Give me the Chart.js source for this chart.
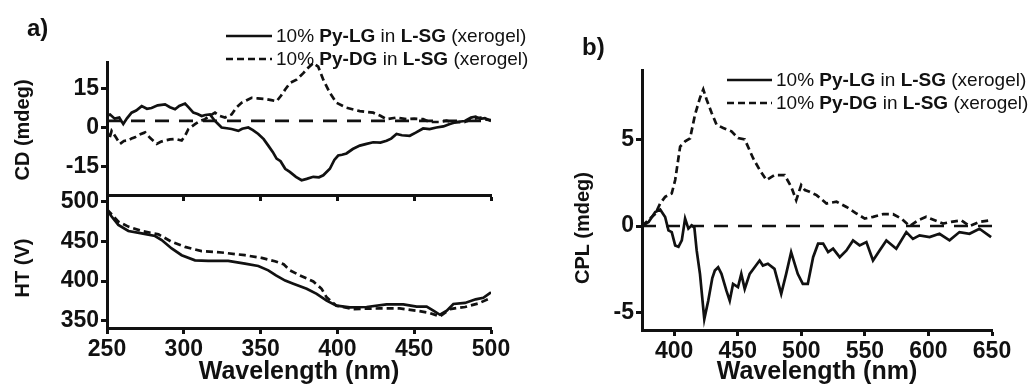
<!DOCTYPE html>
<html><head><meta charset="utf-8">
<script src="https://cdn.jsdelivr.net/npm/chart.js@4.4.1/dist/chart.umd.min.js"></script>
<style>
html,body{margin:0;padding:0;background:#fff;}
#wrap{position:relative;width:1030px;height:388px;overflow:hidden;font-family:"Liberation Sans",Arial,sans-serif;color:#111;}
canvas{position:absolute;}
.t{position:absolute;white-space:nowrap;line-height:1;}
.leg{position:absolute;white-space:nowrap;font-size:19px;line-height:22px;height:22px;}
.leg svg{vertical-align:middle;margin-right:4px;}
.leg span{vertical-align:middle;}
.rot{position:absolute;white-space:nowrap;font-weight:bold;font-size:20px;line-height:1;transform:translate(-50%,-50%) rotate(-90deg);}
</style></head>
<body><div id="wrap">
<canvas id="cd" width="530" height="201" style="left:0;top:0"></canvas>
<canvas id="ht" width="530" height="388" style="left:0;top:0"></canvas>
<canvas id="cpl" width="500" height="388" style="left:530px;top:0"></canvas>
<div class="t" style="left:27px;top:16px;font-size:24px;font-weight:bold">a)</div>
<div class="t" style="left:582px;top:35px;font-size:24px;font-weight:bold">b)</div>
<div class="rot" style="left:22px;top:130px">CD (mdeg)</div>
<div class="rot" style="left:22px;top:268px">HT (V)</div>
<div class="rot" style="left:582px;top:228px">CPL (mdeg)</div>
<div class="leg" style="left:226px;top:24px"><svg width="46" height="6"><line x1="0" y1="3" x2="46" y2="3" stroke="#111" stroke-width="2.7"/></svg><span>10% <b>Py-LG</b> in <b>L-SG</b> (xerogel)</span></div>
<div class="leg" style="left:226px;top:47px"><svg width="46" height="6"><line x1="0" y1="3" x2="46" y2="3" stroke="#111" stroke-width="2.7" stroke-dasharray="7,4"/></svg><span>10% <b>Py-DG</b> in <b>L-SG</b> (xerogel)</span></div>
<div class="leg" style="left:727px;top:68px"><svg width="45" height="6"><line x1="0" y1="3" x2="45" y2="3" stroke="#111" stroke-width="2.7"/></svg><span>10% <b>Py-LG</b> in <b>L-SG</b> (xerogel)</span></div>
<div class="leg" style="left:727px;top:91px"><svg width="45" height="6"><line x1="0" y1="3" x2="45" y2="3" stroke="#111" stroke-width="2.7" stroke-dasharray="7,4"/></svg><span>10% <b>Py-DG</b> in <b>L-SG</b> (xerogel)</span></div>
</div>
<script>
// ---------- data ----------
const cdLgX = [250,252,255,258,260.6,263,266,269,272.6,276,279,283,287.8,291,294.3,297,300.8,303,306.2,309,311.6,314,317,320.3,322,324.6,328,331.1,335.5,338,342,345,348.5,352,355,358,360.4,363,366,369,373,376.7,380,384.3,388,390.8,395.1,398,400.5,403,405.9,410,414.6,419,423.3,428,432,435,438.5,442,447.1,451,455.8,460,464.5,469,473.2,477.5,483,487,490,493,496,500];
const cdLgY = [4.5,5,3.4,3.8,1.3,3.5,5.7,6.5,8.2,7.2,7.5,8.5,8.9,7.8,7,8.3,9.2,7.8,5.7,5.2,4.4,4.8,5,2.5,1.5,0,-0.3,-0.6,-1.3,-0.5,0,-1,-2.5,-4.5,-7,-9.5,-12,-13,-15.9,-17.1,-19,-20.3,-19.8,-19,-19.2,-18.4,-15.9,-12.5,-10.8,-10.5,-10,-8.3,-7,-6.3,-5.7,-5.8,-5.1,-4.3,-2.5,-3,-3.2,-2,-0.4,-0.6,0,0.4,1.3,2.1,2.5,3.8,4.2,3.3,3.6,2.5];
const cdDgX = [250,251.5,253,256,258.5,261,263.9,266,268.2,271,274.8,278,282.4,285,287.8,291,294.3,298.6,301,303,307.3,310,313.8,317,320.3,323,326.8,331.1,334,337.6,341,344.1,348,352.8,357,360.4,363,366,369.1,373.4,377.8,381,384.3,387.5,390.8,395.1,399.4,405.9,414.6,423.3,428,432,438.5,445,450,455.8,460.2,466.7,471,475.4,483,488,493,497,500];
const cdDgY = [-1,-4.4,-1.3,-4,-6.3,-5.2,-5,-4.2,-3.8,-2.8,-1.9,-4,-6.3,-5.5,-5,-4.6,-4.4,-5,-3,-0.6,1.3,2.3,3.2,4.5,5.7,4.5,3.8,5,7.5,9.5,10.5,11.4,11.2,11,10.5,10.1,12,14.6,17.1,18.4,20.9,23,24.8,23.4,18.4,13.3,9.5,7.6,6.3,5.7,4.5,3.2,3.8,3.2,3.4,3.2,2.1,2.1,2.6,1.9,2.1,3.2,3.8,3,2.8];
const cdBaseline = 2.5;

const htLgX = [250,253,257.4,263.9,272.6,281.3,285.6,292.1,298.6,307.3,315.9,328.9,339.8,348.5,355,360,366,371.3,380,386.5,393,399.4,408.1,419,432,442.9,451.6,458.1,462.5,466.8,471.2,475.5,483.1,490,495,500];
const htLgY = [489.4,481,470.4,462.8,459.9,456.5,451.4,440.9,432.4,426,425.2,425.2,421.9,418.8,413.4,407,400.5,396.5,390.2,383.8,375.3,369,366.9,367.4,370.7,370.7,367.9,367.9,362.7,357.6,362.7,371.2,372.5,377,379,385.9];
const htDgX = [250,257.4,263.9,272.6,283.5,292.1,300.8,311.6,324.6,339.8,350.7,359.3,365,369.1,375.6,384.3,389.7,393,399.4,410.2,427.6,440.6,451.6,460.2,466.8,473.3,483.1,492,500];
const htDgY = [490,474.6,468.3,462.8,458.6,449.2,442.9,437.5,435.8,432.4,429,424.8,421,413.4,407,399.4,390.2,379.5,369,364.8,365.6,365.6,362.7,359.8,355.5,364.8,367.4,372,378.8];

const cplLgX = [374.7,379.9,385.1,389,392.9,395.5,398.1,400.8,403.4,406,408.6,411.2,413.8,415.9,417.7,420.3,423.7,426.8,430,432,434.6,437.2,441.1,443.7,446.3,450.2,452.8,455.5,459.4,463.3,467.2,469.8,473.7,478.9,484.2,488.1,492,497.2,501.2,505.1,509.3,513.2,517.2,521.1,525,530.2,535.5,540.7,545.9,551.2,556.4,561.6,566.9,574.7,582.6,587.8,593,600.9,608.7,616.6,624.4,632.3,640.1,649.3];
const cplLgY = [0,0.23,0.81,0.95,0.52,-0.25,-0.35,-1.12,-1.2,-0.83,0.43,-0.15,0.04,-0.1,-1.41,-2.76,-5.37,-4.31,-3,-2.57,-2.38,-2.76,-3.73,-4.31,-3.34,-3.53,-2.76,-3.63,-2.76,-2.38,-1.99,-2.28,-2.18,-2.47,-3.92,-2.76,-1.51,-2.76,-3.34,-3.34,-1.8,-1.02,-1.02,-1.51,-1.31,-1.8,-1.41,-0.83,-1.12,-0.93,-1.99,-1.41,-0.83,-1.31,-0.35,-0.74,-0.54,-0.64,-0.45,-0.83,-0.35,-0.45,-0.16,-0.64];
const cplDgX = [374.7,385.1,389,392.9,398.1,400.8,404.7,408.6,412.5,416.4,420.3,422.9,425.5,429.5,433.4,438.6,445.1,450.3,455.5,462.1,467.3,472.5,479,486.9,492.1,496,499.9,502.8,506.5,512,519.8,527.7,535.5,543.4,549.9,556.5,564.3,572.2,578.7,585.3,591.8,598.3,604.9,611.4,618,625.8,632.3,640.2,649.3];
const cplDgY = [0,0.7,1.3,1.68,1.88,2.65,4.58,4.88,5.06,6.42,7.39,7.88,7.3,6.52,5.84,5.65,5.46,5.07,5,3.91,3.23,2.65,2.94,2.94,2.26,1.49,2.36,2.07,1.97,1.78,1.3,1.4,1.1,0.72,0.43,0.53,0.68,0.68,0.43,0,0.33,0.53,0.33,0.14,0.24,0.33,0,0.24,0.33];
const cplBaseline = 0;

const xTicksA = [250,300,350,400,450,500];
const xTicksB = [400,450,500,550,600,650];
const cdTicks = [-15,0,15];
const htTicks = [350,400,450,500];
const cplTicks = [-5,0,5];

// ---------- helpers ----------
const FONT = "'Liberation Sans', Arial, sans-serif";
const INK = '#111';
const pts = (xs, ys) => xs.map((x, i) => ({x, y: ys[i]}));
const setTicks = arr => s => { s.ticks = arr.map(v => ({value: v})); };
const solid = (xs, ys) => ({data: pts(xs, ys), borderColor: INK, borderWidth: 2.7, pointRadius: 0, tension: 0, fill: false});
const dashed = (xs, ys) => Object.assign(solid(xs, ys), {borderDash: [7, 4]});
const zero = (x0, x1, y) => ({data: [{x: x0, y}, {x: x1, y}], borderColor: INK, borderWidth: 2.7, borderDash: [14, 10], pointRadius: 0});
const tickFont = {family: FONT, size: 23, weight: 'bold'};
const titleFont = {family: FONT, size: 25, weight: 'bold'};
const axGrid = {display: true, drawOnChartArea: false, drawTicks: true, tickLength: 6, tickWidth: 3, tickColor: INK};
const axBorder = {display: true, width: 3, color: INK};
const fitW = w => s => { s.width = w; s.paddingTop = 0; s.paddingBottom = 0; s.paddingLeft = 0; s.paddingRight = 0; };
const fitH = h => s => { s.height = h; s.paddingTop = 0; s.paddingBottom = 0; s.paddingLeft = 0; s.paddingRight = 0; };
const base = {
  animation: false, responsive: false, maintainAspectRatio: false,
  plugins: {legend: {display: false}, tooltip: {enabled: false}},
  elements: {point: {radius: 0}}
};
const yAxis = (min, max, ticks, w) => ({type: 'linear', min, max, afterBuildTicks: setTicks(ticks),
  ticks: {font: tickFont, color: INK, padding: 2, callback: v => String(v)},
  grid: axGrid, border: axBorder, afterFit: fitW(w)});
const xAxis = (min, max, ticks, h, labels) => ({type: 'linear', min, max, afterBuildTicks: setTicks(ticks),
  ticks: {display: labels, font: tickFont, color: INK, padding: 2, maxRotation: 0, callback: v => String(v)},
  grid: axGrid, border: axBorder,
  title: {display: labels, text: 'Wavelength (nm)', font: titleFont, color: INK, padding: {top: 0, bottom: 1}},
  afterFit: fitH(h)});

// ---------- a) CD ----------
new Chart(document.getElementById('cd'), {
  type: 'line',
  data: {datasets: [zero(250, 500, cdBaseline), dashed(cdDgX, cdDgY), solid(cdLgX, cdLgY)]},
  options: Object.assign({}, base, {
    layout: {padding: {left: 0, top: 62, right: 39, bottom: 0}},
    scales: {x: xAxis(250, 500, xTicksA, 6, false), y: yAxis(-26, 25.2, cdTicks, 107)}
  })
});

// ---------- a) HT ----------
new Chart(document.getElementById('ht'), {
  type: 'line',
  data: {datasets: [dashed(htDgX, htDgY), solid(htLgX, htLgY)]},
  options: Object.assign({}, base, {
    layout: {padding: {left: 0, top: 195, right: 39, bottom: 0}},
    scales: {x: xAxis(250, 500, xTicksA, 60, true), y: yAxis(341, 508, htTicks, 107)}
  })
});

// ---------- b) CPL ----------
new Chart(document.getElementById('cpl'), {
  type: 'line',
  data: {datasets: [zero(374.7, 650, cplBaseline), dashed(cplDgX, cplDgY), solid(cplLgX, cplLgY)]},
  options: Object.assign({}, base, {
    layout: {padding: {left: 0, top: 70, right: 38, bottom: 0}},
    scales: {x: xAxis(374.7, 650, xTicksB, 58, true), y: yAxis(-6, 9, cplTicks, 112)}
  })
});
</script>
</body></html>
